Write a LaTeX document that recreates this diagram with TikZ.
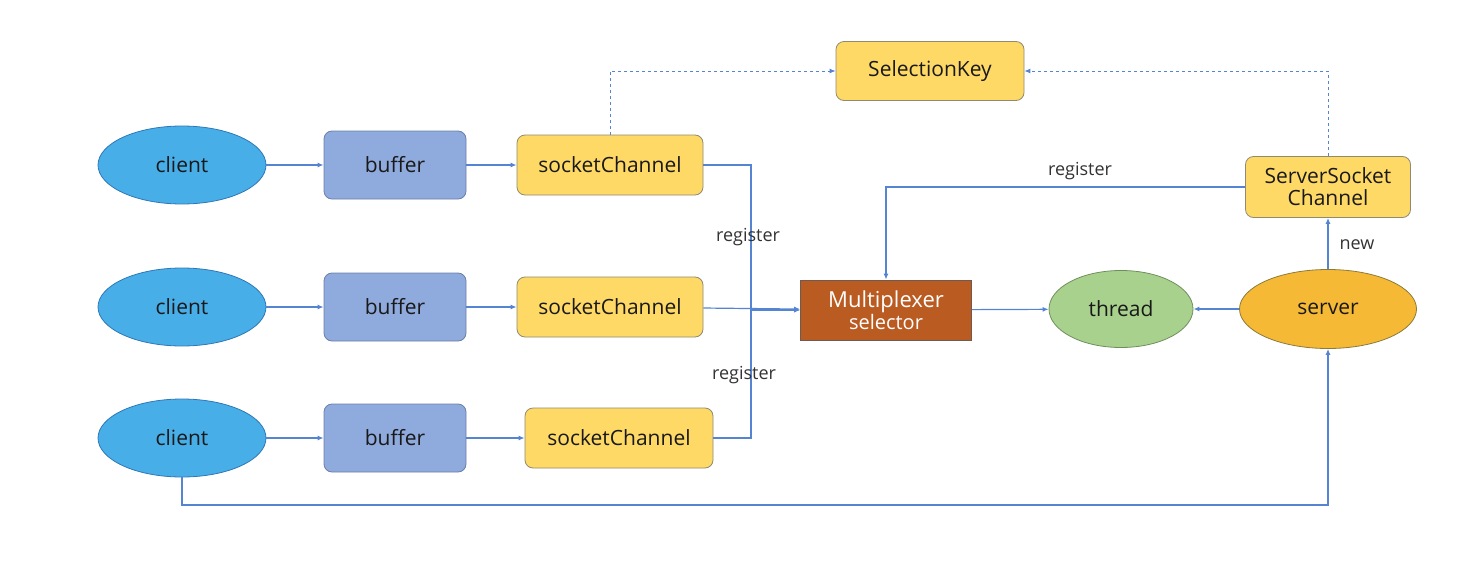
\documentclass[tikz,border=0pt]{standalone}
\usepackage{fontspec}
\setmainfont{Open Sans}
\usetikzlibrary{arrows.meta,shapes.geometric}
\definecolor{linkblue}{HTML}{5585D2}
\definecolor{clientfill}{HTML}{48AEE8}
\definecolor{clientline}{HTML}{2F78B8}
\definecolor{buffill}{HTML}{8FAADC}
\definecolor{bufline}{HTML}{6C7FA8}
\definecolor{chanfill}{HTML}{FFD966}
\definecolor{chanline}{HTML}{8F8A70}
\definecolor{muxfill}{HTML}{BA5B22}
\definecolor{muxline}{HTML}{6E5A50}
\definecolor{threadfill}{HTML}{A9D18E}
\definecolor{threadline}{HTML}{6E8F5B}
\definecolor{serverfill}{HTML}{F5B935}
\definecolor{serverline}{HTML}{8C7A3A}
\tikzset{
  txt/.style={font=\fontsize{21}{25}\selectfont, text=black!90},
  clientell/.style={ellipse, draw=clientline, fill=clientfill, line width=0.8pt, minimum width=168pt, minimum height=78pt, txt},
  bufbox/.style={draw=bufline, fill=buffill, line width=0.8pt, rounded corners=8pt, minimum width=142pt, minimum height=68pt, txt},
  chanbox/.style={draw=chanline, fill=chanfill, line width=0.8pt, rounded corners=8pt, minimum height=60pt, align=center, txt},
  muxbox/.style={draw=muxline, fill=muxfill, line width=0.8pt, minimum width=171pt, minimum height=60pt, align=center, text=white, font=\fontsize{22}{25}\selectfont},
  threadell/.style={ellipse, draw=threadline, fill=threadfill, line width=0.8pt, minimum width=144pt, minimum height=77pt, txt},
  serverell/.style={ellipse, draw=serverline, fill=serverfill, line width=0.8pt, minimum width=177pt, minimum height=79pt, txt},
  flow/.style={draw=linkblue, line width=1.2pt, -{Latex[length=6pt,width=5pt]}},
  lbl/.style={font=\fontsize{18}{20}\selectfont, text=black!80},
}
\begin{document}
\begin{tikzpicture}[x=1pt,y=-1pt]
  \path[use as bounding box] (0,0) rectangle (1472,562);
  \foreach \i/\y/\cx/\cw in {1/165/610/186,2/307/610/186,3/438/619/188} {
    \node[clientell] (client\i) at (182,\y) {client};
    \node[bufbox] (buf\i) at (395,\y) {buffer};
    \node[chanbox, minimum width=\cw pt] (chan\i) at (\cx,\y) {socketChannel};
    \draw[flow] (client\i) -- (buf\i);
    \draw[flow] (buf\i) -- (chan\i);
  }
  \node[chanbox, minimum width=188pt, minimum height=59pt] (key) at (930,71) {SelectionKey};
  \node[muxbox] (mux) at (886,310) {Multiplexer\\[-3pt]{\fontsize{20}{22}\selectfont selector}};
  \node[threadell] (thread) at (1121,309) {thread};
  \node[serverell] (server) at (1328,309) {server};
  \node[chanbox, minimum width=165pt, minimum height=61pt] (ssc) at (1328,187) {ServerSocket\\[-3pt]Channel};
  \coordinate (join) at (751,310);
  \coordinate (low) at (182,505);
  \draw[flow] (chan1) -| (join) -- (mux);
  \draw[flow] (chan3) -| (join) -- (mux);
  \draw[flow] (chan2) -- (mux);
  \draw[flow, dashed, line width=0.9pt] (chan1.north) |- (key.west);
  \draw[flow, dashed, line width=0.9pt] (ssc.north) |- (key.east);
  \draw[flow] (ssc.west) -| (mux.north);
  \draw[flow] (mux) -- (thread);
  \draw[flow] (server) -- (thread);
  \draw[flow] (server) -- (ssc);
  \draw[flow] (client3.south) -- (low) -| (server.south);
  \node[lbl] (regA) at (748,237) {register};
  \node[lbl] (regB) at (744,375) {register};
  \node[lbl] (regC) at (1080,171) {register};
  \node[lbl] (newlbl) at (1357,245) {new};
\end{tikzpicture}
\end{document}
